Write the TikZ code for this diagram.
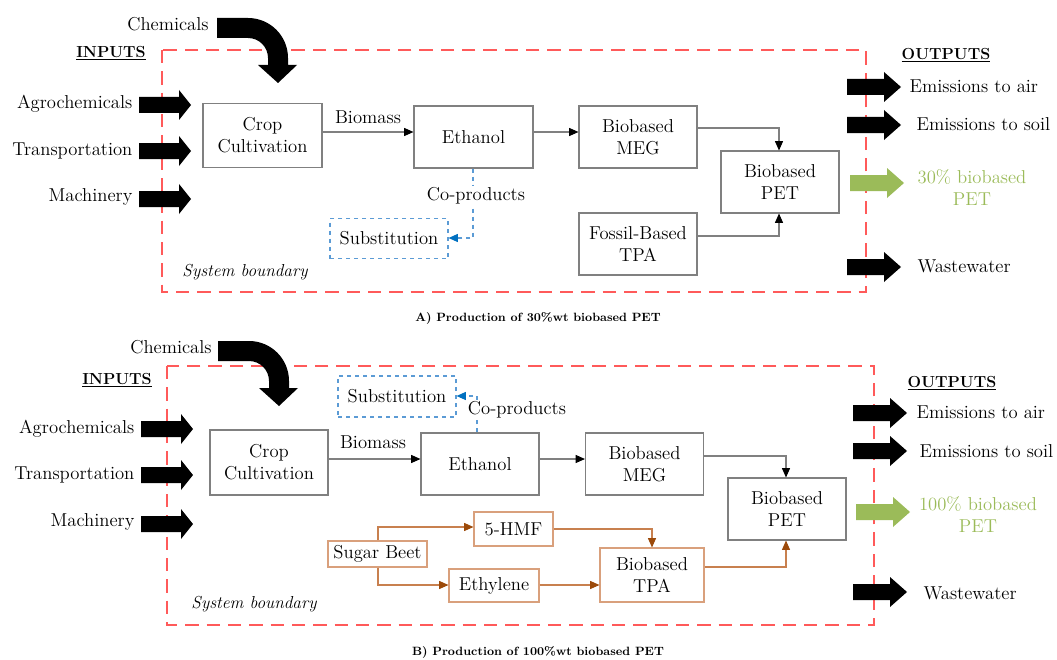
\documentclass[tikz,border=0pt]{standalone}
\usepackage{fontspec}
\usetikzlibrary{arrows.meta}
\definecolor{bnd}{HTML}{FF5A5A}
\definecolor{boxg}{HTML}{808080}
\definecolor{blu}{HTML}{5B9BD5}
\definecolor{bluh}{HTML}{0070C0}
\definecolor{brnl}{HTML}{C8804F}
\definecolor{brnbox}{HTML}{D9A07C}
\definecolor{brnh}{HTML}{9C4A0A}
\definecolor{grn}{HTML}{9BBB59}
\newcommand\pxu[1]{#1*0.75pt}
\begin{document}
\begin{tikzpicture}[x=0.75pt,y=-0.75pt,
  txt/.style={font=\fontsize{14}{16.5}\selectfont, inner sep=1pt, align=center},
  proc/.style={txt, draw=boxg, line width=0.8pt, minimum width=\pxu{118}, minimum height=\pxu{62}},
  subst/.style={txt, draw=blu, dashed, line width=0.8pt, minimum width=\pxu{118}, minimum height=\pxu{40}},
  bbox/.style={txt, draw=brnbox, line width=0.8pt, inner sep=0pt},
  bound/.style={draw=bnd, line width=1pt, dash pattern=on 10pt off 6pt},
  pics/inarrow/.style={code={\fill[#1] (-26,-8) -- (14,-8) -- (14,-15) -- (26,0) -- (14,15) -- (14,8) -- (-26,8) -- cycle;}},
  pics/outarrow/.style={code={\fill[#1] (-27,-8) -- (10,-8) -- (10,-15) -- (27,0) -- (10,15) -- (10,8) -- (-27,8) -- cycle;}},
  flow/.style={draw=boxg, line width=0.8pt, -{Triangle[length=7pt,width=6pt,color=black]}},
  bflow/.style={draw=brnl, line width=0.8pt, -{Triangle[length=7pt,width=6pt,color=brnh]}},
  coflow/.style={draw=blu, dashed, line width=0.8pt, -{Triangle[length=7pt,width=6pt,color=bluh]}},
  head/.style={font=\fontsize{12}{14}\selectfont\bfseries, inner sep=0pt},
  capt/.style={font=\fontsize{9}{11}\selectfont\bfseries, inner sep=0pt},
  sysb/.style={font=\fontsize{13}{15}\selectfont\itshape, inner sep=0pt},
  grtxt/.style={txt, text=grn}
]
\useasboundingbox (0,0) rectangle (1057,660);

% ================= Panel A =================
\draw[bound] (162,50) rectangle (866,292);
\node[txt] (chemA) at (168,24) {Chemicals};
\fill (217,18) -- (248,18) .. controls (270.1,18) and (288,35.9) .. (288,58) -- (288,65) -- (297,65) -- (278,83) -- (258,65) -- (268,65) -- (268,58) .. controls (268,46.95) and (259.05,38) .. (248,38) -- (217,38) -- cycle;
\node[head] (inA) at (111,53) {\underline{INPUTS}};
\node[head] (outA) at (946,55) {\underline{OUTPUTS}};

\node[txt, anchor=east] (agA) at (134,104) {Agrochemicals};
\node[txt, anchor=east] (trA) at (134,151) {Transportation};
\node[txt, anchor=east] (maA) at (134,197) {Machinery};
\pic (iaA1) at (165,105) {inarrow=black};
\pic (iaA2) at (165,151) {inarrow=black};
\pic (iaA3) at (165,199) {inarrow=black};

\node[proc, minimum width=\pxu{119}, minimum height=\pxu{64}] (cropA) at (262.5,135.5) {Crop\\Cultivation};
\node[proc, minimum width=\pxu{119}] (ethA) at (473.5,137) {Ethanol};
\node[proc] (megA) at (638,137) {Biobased\\MEG};
\node[proc] (petA) at (780,182) {Biobased\\PET};
\node[proc] (tpaA) at (638,244) {Fossil-Based\\TPA};
\node[subst] (subA) at (389,238.5) {Substitution};

\coordinate (yA1) at (0,132);
\coordinate (yA2) at (0,128);
\coordinate (yA3) at (0,236);
\coordinate (yA4) at (0,238);
\coordinate (xA1) at (473,0);
\coordinate (xA2) at (779,0);
\node[txt] (bioA) at (368,117) {Biomass};
\draw[flow] (cropA.east |- yA1) -- (ethA.west |- yA1);
\draw[flow] (ethA.east |- yA1) -- (megA.west |- yA1);
\draw[flow] (megA.east |- yA2) -| (petA.north -| xA2);
\draw[flow] (tpaA.east |- yA3) -| (petA.south -| xA2);
\draw[coflow] (ethA.south -| xA1) |- (subA.east |- yA4);
\node[txt, fill=white] (coA) at (476,196) {Co-products};
\node[sysb] (sbA) at (245,272) {System boundary};

\pic (oaA1) at (874,87) {outarrow=black};
\pic (oaA2) at (874,125) {outarrow=black};
\pic (oaA3) at (877,183) {outarrow=grn};
\pic (oaA4) at (874,267) {outarrow=black};
\node[txt, anchor=west] (emaA) at (908,86) {Emissions to air};
\node[txt, anchor=west] (emsA) at (915,124) {Emissions to soil};
\node[grtxt] (pA) at (972,187) {30\% biobased\\PET};
\node[txt, anchor=west] (wwA) at (916,266) {Wastewater};
\node[capt] (capA) at (538,318) {A) Production of 30\%wt biobased PET};

% ================= Panel B =================
\draw[bound] (167,366) rectangle (874,625);
\node[txt] (chemB) at (171,347) {Chemicals};
\begin{scope}[shift={(1,323)}]
\fill (217,18) -- (248,18) .. controls (270.1,18) and (288,35.9) .. (288,58) -- (288,65) -- (297,65) -- (278,83) -- (258,65) -- (268,65) -- (268,58) .. controls (268,46.95) and (259.05,38) .. (248,38) -- (217,38) -- cycle;
\end{scope}
\node[head] (inB) at (117,380) {\underline{INPUTS}};
\node[head] (outB) at (952,383) {\underline{OUTPUTS}};

\node[txt, anchor=east] (agB) at (136,429) {Agrochemicals};
\node[txt, anchor=east] (trB) at (136,475) {Transportation};
\node[txt, anchor=east] (maB) at (136,522) {Machinery};
\pic (iaB1) at (167,429) {inarrow=black};
\pic (iaB2) at (167,475) {inarrow=black};
\pic (iaB3) at (167,524) {inarrow=black};

\node[proc, minimum height=\pxu{65}] (cropB) at (269,462.5) {Crop\\Cultivation};
\node[proc] (ethB) at (480,464) {Ethanol};
\node[proc] (megB) at (644.5,464) {Biobased\\MEG};
\node[proc] (petB) at (787,509) {Biobased\\PET};
\node[subst, minimum height=\pxu{41}] (subB) at (397,396.5) {Substitution};

\node[bbox, minimum width=\pxu{99}, minimum height=\pxu{26}] (sugB) at (377.5,554) {Sugar Beet};
\node[bbox, minimum width=\pxu{79}, minimum height=\pxu{34}] (hmfB) at (513.5,529) {5-HMF};
\node[bbox, minimum width=\pxu{90}, minimum height=\pxu{33}] (etyB) at (494,585.5) {Ethylene};
\node[bbox, minimum width=\pxu{104}, minimum height=\pxu{54}] (tpaB) at (652,575) {Biobased\\TPA};

\coordinate (yB1) at (0,459);
\coordinate (yB2) at (0,456);
\coordinate (yB3) at (0,396);
\coordinate (yB4) at (0,527);
\coordinate (yB5) at (0,585);
\coordinate (yB6) at (0,529);
\coordinate (yB7) at (0,567);
\coordinate (xB1) at (477,0);
\coordinate (xB2) at (786,0);
\coordinate (xB3) at (378,0);
\coordinate (xB4) at (652,0);

\node[txt] (bioB) at (373,442) {Biomass};
\draw[flow] (cropB.east |- yB1) -- (ethB.west |- yB1);
\draw[flow] (ethB.east |- yB1) -- (megB.west |- yB1);
\draw[flow] (megB.east |- yB2) -| (petB.north -| xB2);
\draw[coflow] (ethB.north -| xB1) |- (subB.east |- yB3);
\node[txt, fill=white] (coB) at (517,410) {Co-products};

\draw[bflow] (sugB.north -| xB3) |- (hmfB.west |- yB4);
\draw[bflow] (sugB.south -| xB3) |- (etyB.west |- yB5);
\draw[bflow] (hmfB.east |- yB6) -| (tpaB.north -| xB4);
\draw[bflow] (etyB.east |- yB5) -- (tpaB.west |- yB5);
\draw[bflow] (tpaB.east |- yB7) -| (petB.south -| xB2);

\node[sysb] (sbB) at (254,604) {System boundary};

\pic (oaB1) at (880,413) {outarrow=black};
\pic (oaB2) at (880,451) {outarrow=black};
\pic (oaB3) at (883,512) {outarrow=grn};
\pic (oaB4) at (880,592) {outarrow=black};
\node[txt, anchor=west] (emaB) at (915,412) {Emissions to air};
\node[txt, anchor=west] (emsB) at (918,451) {Emissions to soil};
\node[grtxt] (pB) at (978,514) {100\% biobased\\PET};
\node[txt, anchor=west] (wwB) at (922,593) {Wastewater};
\node[capt] (capB) at (538,652) {B) Production of 100\%wt biobased PET};
\end{tikzpicture}
\end{document}
